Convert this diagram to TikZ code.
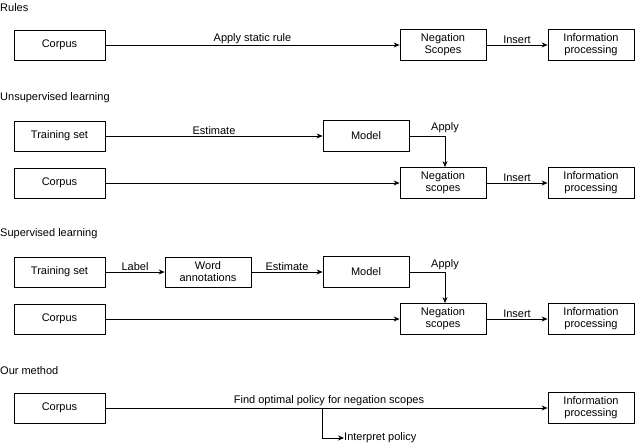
\documentclass[tikz,border=0pt]{standalone}
\usepackage{fontspec}
\setmainfont{Liberation Sans}
\usetikzlibrary{arrows.meta}

\begin{document}
\begin{tikzpicture}[x=1pt,y=-1pt,font=\fontsize{11}{12}\selectfont,
	box/.style={draw,thick,minimum height=30pt,align=center,inner sep=1pt},
	wbox/.style={box,minimum width=91pt},
	nbox/.style={box,minimum width=86pt,minimum height=31pt},
	flow/.style={thick,-{Stealth[length=6pt,width=5pt]}},
	title/.style={anchor=west,inner sep=0pt},
	lbl/.style={inner sep=0pt}]
	\useasboundingbox (0,0) rectangle (640,447);

	% rules
	\node[title] (t1) at (0,8) {Rules};
	\node[wbox] (c1) at (59.5,45) {Corpus};
	\node[nbox] (n1) at (443,45) {Negation\\Scopes};
	\node[nbox] (i1) at (591,45) {Information\\processing};
	\draw[flow] (c1) -- node[lbl,above=1pt] {Apply static rule} (n1);
	\draw[flow] (n1) -- node[lbl,above=1pt] {Insert} (i1);

	% unsupervised
	\node[title] (t2) at (0,98) {Unsupervised learning};
	\node[wbox] (ts2) at (59.5,136) {Training set};
	\node[nbox] (m2) at (366,136) {Model};
	\node[wbox] (c2) at (59.5,183) {Corpus};
	\node[nbox] (n2) at (443,183) {Negation\\scopes};
	\node[nbox] (i2) at (591,183) {Information\\processing};
	\coordinate (a2) at (445,136);
	\draw[flow] (ts2) -- node[lbl,above=1pt] {Estimate} (m2);
	\draw[flow] (m2) -- (a2) -- (a2 |- n2.north);
	\node[lbl] at (445,128) {Apply};
	\draw[flow] (c2) -- (n2);
	\draw[flow] (n2) -- node[lbl,above=1pt] {Insert} (i2);

	% supervised
	\node[title] (t3) at (0,234) {Supervised learning};
	\node[wbox] (ts3) at (59.5,272) {Training set};
	\node[box,minimum width=86pt] (w3) at (208,272) {Word\\annotations};
	\node[nbox] (m3) at (366,272) {Model};
	\node[wbox] (c3) at (59.5,319) {Corpus};
	\node[nbox] (n3) at (443,319) {Negation\\scopes};
	\node[nbox] (i3) at (591,319) {Information\\processing};
	\coordinate (a3) at (445,272);
	\draw[flow] (ts3) -- node[lbl,above=1pt] {Label} (w3);
	\draw[flow] (w3) -- node[lbl,above=1pt] {Estimate} (m3);
	\draw[flow] (m3) -- (a3) -- (a3 |- n3.north);
	\node[lbl] at (445,265) {Apply};
	\draw[flow] (c3) -- (n3);
	\draw[flow] (n3) -- node[lbl,above=1pt] {Insert} (i3);

	% our method
	\node[title] (t4) at (0,371) {Our method};
	\node[wbox] (c4) at (59.5,408) {Corpus};
	\node[nbox] (i4) at (591,408) {Information\\processing};
	\node[lbl,anchor=west] (p4) at (344,438) {Interpret policy};
	\coordinate (b4) at (322,408);
	\draw[flow] (c4) -- (i4);
	\node[lbl] at (329,401) {Find optimal policy for negation scopes};
	\draw[flow] (b4) -- (b4 |- p4) -- (p4.west);
\end{tikzpicture}
\end{document}
